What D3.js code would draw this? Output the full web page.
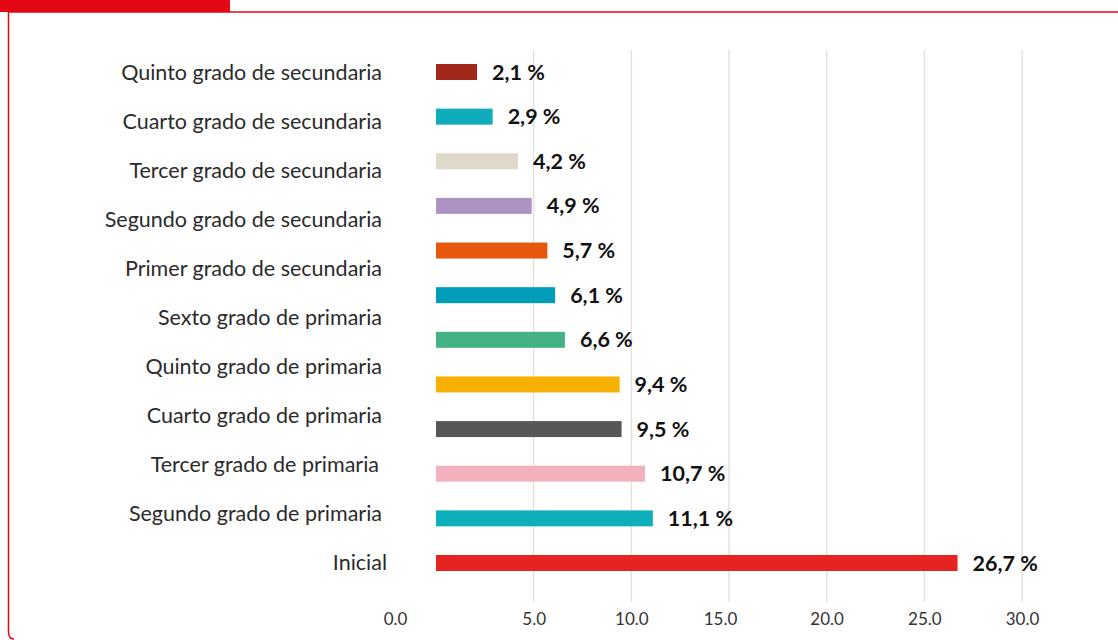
<!DOCTYPE html>
<html>
<head>
<meta charset="utf-8">
<script src="https://cdn.jsdelivr.net/npm/d3@7"></script>
<style>
  body { margin: 0; background: #fff; }
  svg { display: block; font-family: Lato, "Open Sans", sans-serif; }
</style>
</head>
<body>
<svg id="chart" width="1118" height="640"></svg>
<script>
// category labels on the left (the infographic shows 11 labels for 12 bars)
let gradeLabels = [
  "Quinto grado de secundaria",
  "Cuarto grado de secundaria",
  "Tercer grado de secundaria",
  "Segundo grado de secundaria",
  "Primer grado de secundaria",
  "Sexto grado de primaria",
  "Quinto grado de primaria",
  "Cuarto grado de primaria",
  "Tercer grado de primaria",
  "Segundo grado de primaria",
  "Inicial"
];

// bar values, top to bottom
let barValues = [2.1, 2.9, 4.2, 4.9, 5.7, 6.1, 6.6, 9.4, 9.5, 10.7, 11.1, 26.7];
let barText   = ["2,1 %", "2,9 %", "4,2 %", "4,9 %", "5,7 %", "6,1 %", "6,6 %", "9,4 %", "9,5 %", "10,7 %", "11,1 %", "26,7 %"];

let barColors = [
  "#a3281c", // dark red
  "#0fadbc", // teal
  "#dfd9ca", // beige
  "#ad92c4", // lavender
  "#e8570e", // orange
  "#009db8", // blue teal
  "#45b286", // green
  "#f7b000", // gold
  "#575757", // dark grey
  "#f3b0bd", // pink
  "#0dafbb", // teal
  "#e52421"  // red
];

let tickValues = [0, 5, 10, 15, 20, 25, 30];

let svg = d3.select("#chart");

// frame + header block
svg.append("rect")
  .attr("x", 0).attr("y", 0)
  .attr("width", 230).attr("height", 12)
  .attr("fill", "#e30613");

svg.append("path")
  .attr("d", "M1118,12 L8.5,12 L8.5,632 Q8.5,639 14,639")
  .attr("fill", "none")
  .attr("stroke", "#e30613")
  .attr("stroke-width", 1.5);

let xScale = d3.scaleLinear()
  .domain([0, 30])
  .range([436, 1022]);

let yBar = d3.scalePoint()
  .domain(d3.range(barValues.length))
  .range([72, 563]);

let yLabel = d3.scalePoint()
  .domain(gradeLabels)
  .range([72, 562]);

// gridlines (no line at 0)
svg.append("g")
  .selectAll("line")
  .data(tickValues.filter(d => d > 0))
  .join("line")
  .attr("x1", d => xScale(d))
  .attr("x2", d => xScale(d))
  .attr("y1", 50)
  .attr("y2", 602)
  .attr("stroke", "#e4e2dc")
  .attr("stroke-width", 1.5);

// x axis, labels only
let xAxis = svg.append("g")
  .attr("transform", "translate(0,602)")
  .call(d3.axisBottom(xScale)
    .tickValues(tickValues)
    .tickFormat(d3.format(".1f"))
    .tickSize(0)
    .tickPadding(11));
xAxis.select(".domain").remove();
xAxis.selectAll("text")
  .style("font-family", "Lato, sans-serif")
  .style("font-size", "17px")
  .attr("fill", "#333")
  .attr("dx", d => d == 0 ? -41 : (d == 15 ? -9 : 0));

// bars
svg.append("g")
  .selectAll("rect")
  .data(barValues)
  .join("rect")
  .attr("x", xScale(0))
  .attr("y", (d, i) => yBar(i) - 8)
  .attr("width", d => xScale(d) - xScale(0))
  .attr("height", 16)
  .attr("fill", (d, i) => barColors[i]);

// value labels
svg.append("g")
  .selectAll("text")
  .data(barValues)
  .join("text")
  .attr("x", d => xScale(d) + 15)
  .attr("y", (d, i) => yBar(i))
  .attr("dy", "0.35em")
  .text((d, i) => barText[i])
  .style("font-size", "21.5px")
  .style("font-weight", "bold")
  .attr("fill", "#111");

// category labels
svg.append("g")
  .selectAll("text")
  .data(gradeLabels)
  .join("text")
  .attr("x", d => d == "Inicial" ? 387 : (d == "Tercer grado de primaria" ? 379 : 382))
  .attr("y", d => yLabel(d))
  .attr("dy", "0.35em")
  .attr("text-anchor", "end")
  .text(d => d)
  .style("font-size", "21.5px")
  .attr("fill", "#2b2b2b");
</script>
</body>
</html>
